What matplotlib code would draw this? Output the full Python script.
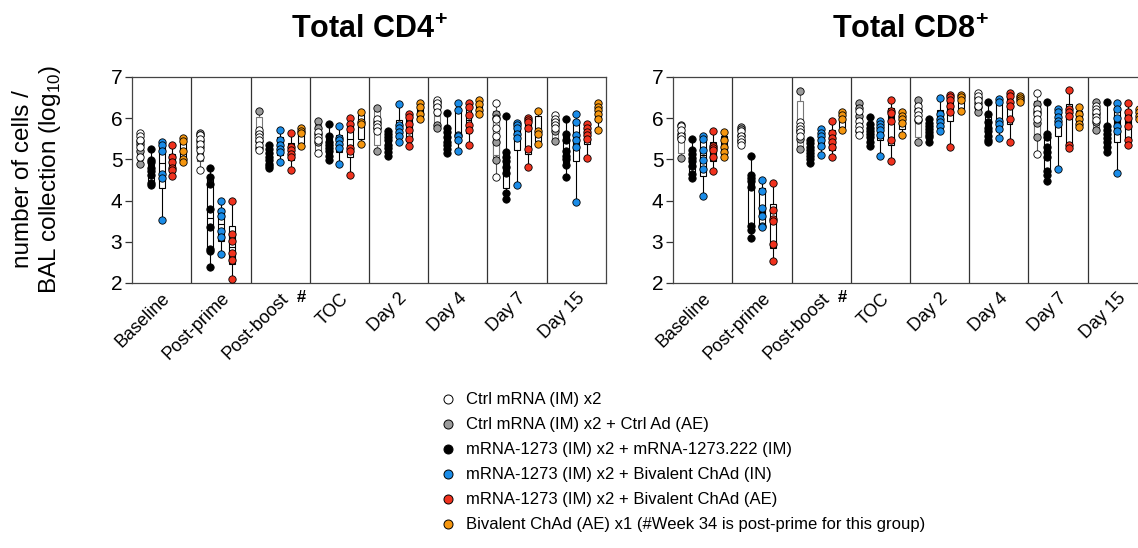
import numpy as np
import matplotlib
matplotlib.use('Agg')
import matplotlib.pyplot as plt
from matplotlib.lines import Line2D

plt.rcParams['font.family'] = ['Liberation Sans', 'DejaVu Sans']
plt.rcParams['mathtext.fontset'] = 'custom'
plt.rcParams['mathtext.rm'] = 'Liberation Sans'
plt.rcParams['mathtext.bf'] = 'Liberation Sans:bold'

timepoints = ['Baseline', 'Post-prime', 'Post-boost', 'TOC',
              'Day 2', 'Day 4', 'Day 7', 'Day 15']
group_names = ['Ctrl mRNA (IM) x2',
               'Ctrl mRNA (IM) x2 + Ctrl Ad (AE)',
               'mRNA-1273 (IM) x2 + mRNA-1273.222 (IM)',
               'mRNA-1273 (IM) x2 + Bivalent ChAd (IN)',
               'mRNA-1273 (IM) x2 + Bivalent ChAd (AE)',
               'Bivalent ChAd (AE) x1 (#Week 34 is post-prime for this group)']
group_colors = ['#ffffff', '#9b9b9b', '#000000', '#1a8ce8', '#f0321e', '#f5960f']

# log10 cells per BAL collection, one list per timepoint
cd4_white = [[5.64, 5.57, 5.48, 5.31, 5.05],
             [5.60, 5.50, 5.38, 5.22, 5.05, 4.74],
             [5.72, 5.62, 5.55, 5.46, 5.34, 5.23],
             [5.66, 5.54, 5.48, 5.15],
             [5.97, 5.87, 5.79, 5.70],
             [6.44, 6.38, 6.28, 6.15],
             [6.38, 5.97, 5.75, 5.56, 4.57],
             [6.07, 5.99, 5.91, 5.83, 5.75]]
cd4_gray = [[5.44, 5.38, 5.21, 4.90],
            [5.64, 5.60, 5.45, 5.30],
            [6.17, 5.65, 5.45, 5.28],
            [5.93, 5.75, 5.62, 5.42],
            [6.25, 5.90, 5.75, 5.20],
            [6.40, 6.30, 5.83, 5.75],
            [6.11, 6.00, 5.43, 4.99],
            [5.95, 5.85, 5.68, 5.44]]
cd4_black = [[5.25, 4.98, 4.93, 4.80, 4.72, 4.62, 4.42, 4.38],
             [4.79, 4.58, 4.41, 3.80, 3.35, 2.82, 2.77, 2.39],
             [5.36, 5.25, 5.15, 5.05, 4.98, 4.90, 4.84, 4.80],
             [5.87, 5.56, 5.42, 5.34, 5.28, 5.21, 5.09, 4.98],
             [5.70, 5.62, 5.55, 5.46, 5.34, 5.28, 5.17, 5.09],
             [6.13, 5.76, 5.66, 5.54, 5.42, 5.34, 5.25, 5.15],
             [6.05, 5.19, 5.05, 4.95, 4.82, 4.68, 4.19, 4.04],
             [5.99, 5.62, 5.46, 5.21, 5.09, 5.01, 4.87, 4.57]]
cd4_blue = [[5.43, 5.35, 5.20, 4.64, 4.56, 3.52],
            [3.98, 3.74, 3.63, 3.25, 3.12, 2.71],
            [5.72, 5.48, 5.36, 5.25, 5.17, 4.94],
            [5.80, 5.52, 5.47, 5.38, 5.28, 4.89],
            [6.34, 5.83, 5.75, 5.66, 5.56, 5.43],
            [6.36, 6.21, 5.60, 5.56, 5.48, 5.20],
            [5.89, 5.83, 5.75, 5.61, 5.52, 4.39],
            [6.09, 5.91, 5.58, 5.46, 5.31, 3.96]]
cd4_red = [[5.34, 5.05, 4.93, 4.80, 4.74, 4.59],
           [3.98, 3.20, 3.02, 2.74, 2.57, 2.10],
           [5.64, 5.31, 5.24, 5.13, 5.05, 4.75],
           [6.00, 5.85, 5.73, 5.28, 5.21, 4.61],
           [6.11, 6.03, 5.87, 5.72, 5.50, 5.32],
           [6.38, 6.28, 6.07, 5.83, 5.72, 5.36],
           [6.00, 5.95, 5.91, 5.75, 5.25, 4.82],
           [5.87, 5.75, 5.66, 5.58, 5.50, 5.03]]
cd4_orange = [[5.52, 5.44, 5.21, 5.00, 4.93],
              [],
              [5.77, 5.70, 5.64, 5.33],
              [6.14, 5.91, 5.85, 5.38],
              [6.36, 6.28, 6.10, 5.98],
              [6.43, 6.34, 6.21, 6.09],
              [6.18, 5.70, 5.62, 5.38],
              [6.36, 6.28, 6.20, 6.11, 5.99, 5.72]]

cd8_white = [[5.80, 5.72, 5.56, 5.50],
             [5.68, 5.57, 5.49, 5.41, 5.35],
             [5.90, 5.82, 5.74, 5.66, 5.57],
             [6.18, 5.93, 5.81, 5.71, 5.60],
             [6.30, 6.18, 6.07, 5.99],
             [6.60, 6.53, 6.45, 6.30],
             [6.60, 6.22, 6.10, 5.97, 5.12],
             [6.30, 6.22, 6.14, 6.04, 5.95]]
cd8_gray = [[5.83, 5.62, 5.52, 5.04],
            [5.78, 5.74, 5.60, 5.45],
            [6.65, 5.70, 5.50, 5.25],
            [6.36, 6.25, 6.05, 5.68],
            [6.44, 6.20, 5.95, 5.41],
            [6.50, 6.38, 6.26, 6.14],
            [6.34, 6.15, 5.89, 5.54],
            [6.40, 6.10, 5.90, 5.72]]
cd8_black = [[5.50, 5.23, 5.13, 5.03, 4.95, 4.85, 4.65, 4.55],
             [5.08, 4.61, 4.55, 4.48, 4.34, 3.38, 3.29, 3.10],
             [5.46, 5.39, 5.31, 5.23, 5.15, 5.08, 5.02, 4.92],
             [6.04, 5.85, 5.76, 5.68, 5.62, 5.54, 5.43, 5.33],
             [5.97, 5.88, 5.80, 5.73, 5.66, 5.60, 5.54, 5.41],
             [6.40, 6.09, 5.90, 5.76, 5.68, 5.57, 5.48, 5.43],
             [6.40, 5.62, 5.54, 5.29, 5.19, 5.06, 4.73, 4.61, 4.47],
             [6.40, 5.82, 5.72, 5.62, 5.52, 5.43, 5.31, 5.19]]
cd8_blue = [[5.57, 5.50, 5.23, 4.98, 4.76, 4.12],
            [4.49, 4.24, 3.81, 3.62, 3.38, 3.35],
            [5.74, 5.64, 5.56, 5.46, 5.33, 5.11],
            [5.93, 5.85, 5.78, 5.71, 5.60, 5.09],
            [6.48, 6.09, 5.99, 5.90, 5.81, 5.70],
            [6.46, 6.40, 5.93, 5.85, 5.74, 5.52],
            [6.22, 6.14, 6.04, 5.93, 5.85, 4.76],
            [6.36, 6.23, 6.01, 5.82, 5.68, 4.68]]
cd8_red = [[5.68, 5.33, 5.28, 5.23, 5.05, 4.72],
           [4.42, 3.76, 3.56, 3.50, 2.94, 2.54],
           [5.93, 5.64, 5.52, 5.41, 5.30, 5.05],
           [6.45, 6.18, 6.12, 5.93, 5.48, 4.97],
           [6.56, 6.52, 6.44, 6.30, 6.14, 5.30],
           [6.60, 6.53, 6.40, 6.30, 5.99, 5.43],
           [6.69, 6.22, 6.14, 6.05, 5.35, 5.27],
           [6.36, 6.14, 6.01, 5.82, 5.48, 5.35]]
cd8_orange = [[5.66, 5.48, 5.30, 5.19, 5.05],
              [],
              [6.15, 6.07, 5.97, 5.72],
              [6.15, 6.05, 5.99, 5.89, 5.60],
              [6.56, 6.52, 6.45, 6.18],
              [6.55, 6.50, 6.45, 6.40],
              [6.26, 6.09, 5.97, 5.85, 5.78],
              [6.22, 6.14, 6.05, 5.97]]

# column offset inside each timepoint (white and gray share a column)
offsets = [0.14, 0.14, 0.32, 0.50, 0.68, 0.86]
edge_colors = ['#555555', '#777777', 'black', 'black', 'black', 'black']
point_z = [6, 5, 7, 8, 9, 10]   # white dots above the gray ones


def boxStats(vals):
    '''quartiles the way Prism does it ((n+1)p), whiskers min to max'''
    q1, med, q3 = np.percentile(vals, [25, 50, 75], method='weibull')
    return {'med': med, 'q1': q1, 'q3': q3,
            'whislo': min(vals), 'whishi': max(vals), 'fliers': []}


def drawPanel(ax, groups, title):
    for g, data in enumerate(groups):
        edge = edge_colors[g]
        for t, vals in enumerate(data):
            if not vals:
                continue
            x = t + offsets[g]
            ax.bxp([boxStats(vals)], positions=[x], widths=0.1,
                   patch_artist=True, showcaps=False, showfliers=False,
                   manage_ticks=False, zorder=2,
                   boxprops=dict(facecolor='white', edgecolor=edge, lw=0.8),
                   whiskerprops=dict(color=edge, lw=0.8),
                   medianprops=dict(color=edge, lw=0.8))
            ax.scatter([x] * len(vals), vals, s=28, c=group_colors[g],
                       edgecolors='black', linewidths=0.6, zorder=point_z[g])

    for t in range(1, len(timepoints)):
        ax.axvline(t, color='#333333', lw=0.9, zorder=1)
    ax.set_xlim(0, len(timepoints))
    ax.set_ylim(2, 7)
    ax.set_yticks(range(2, 8))
    ax.set_xticks(np.arange(len(timepoints)) + 0.5)
    ax.set_xticklabels(timepoints, rotation=45, ha='right',
                       rotation_mode='anchor', fontsize=13)
    ax.tick_params(axis='x', length=0, pad=5)
    ax.tick_params(axis='y', length=5, width=0.9, color='#333333',
                   labelsize=15, pad=2)
    for s in ax.spines.values():
        s.set_color('#444444')
        s.set_linewidth(0.9)
    ax.text(2 + offsets[5], -0.035, '#', transform=ax.get_xaxis_transform(),
            ha='center', va='top', fontsize=12, fontweight='bold')
    ax.set_title(title, fontsize=22, fontweight='bold', pad=28)


fig = plt.figure(figsize=(11.38, 5.48), dpi=100)
ax1 = fig.add_axes([0.116, 0.4836, 0.4165, 0.3759])
ax2 = fig.add_axes([0.5914, 0.4836, 0.4165, 0.3759])

drawPanel(ax1, [cd4_white, cd4_gray, cd4_black, cd4_blue, cd4_red, cd4_orange],
          r'Total CD4$^{\!\bf +}$')
drawPanel(ax2, [cd8_white, cd8_gray, cd8_black, cd8_blue, cd8_red, cd8_orange],
          r'Total CD8$^{\!\bf +}$')

fig.text(0.033, 0.673, 'number of cells /\nBAL collection (log$_{10}$)',
         rotation=90, ha='center', va='center', fontsize=17.5, linespacing=1.15)

handles = [Line2D([], [], marker='o', ls='', markerfacecolor=c,
                  markeredgecolor='black', markeredgewidth=0.7, markersize=6.5)
           for c in group_colors]
fig.legend(handles, group_names, loc='upper left',
           bbox_to_anchor=(0.3866, 0.2840), frameon=False, fontsize=12,
           handlelength=1.0, handletextpad=0.55, labelspacing=0.6,
           borderpad=0, borderaxespad=0)

fig.savefig('out.png', dpi=100)
